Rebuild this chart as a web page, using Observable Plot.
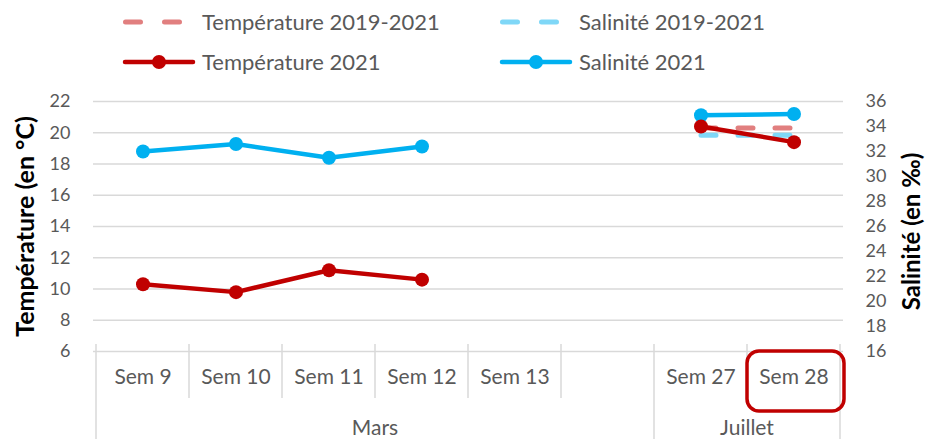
<!DOCTYPE html>
<html><head><meta charset="utf-8">
<script src="https://cdn.jsdelivr.net/npm/d3@7"></script>
<script src="https://cdn.jsdelivr.net/npm/@observablehq/plot@0.6"></script>
<style>body{margin:0;background:#fff;} #chart{width:927px;height:439px;}</style>
</head><body><div id="chart"></div>
<script>
const categories = ["Sem 9","Sem 10","Sem 11","Sem 12","Sem 13"," ","Sem 27","Sem 28"];
const monthOf = ["Mars","Mars","Mars","Mars","Mars","Mars","Juillet","Juillet"];
const months = ["Mars","Juillet"];
const temp2021 = [10.3, 9.8, 11.2, 10.6, null, null, 20.4, 19.4];
const sal2021 = [32.0, 32.6, 31.5, 32.4, null, null, 34.9, 35.0];
const temp1921 = [null, null, null, null, null, null, 20.3, 20.3];
const sal1921 = [null, null, null, null, null, null, 33.3, 33.3];
const tempTicks = [6, 8, 10, 12, 14, 16, 18, 20, 22];
const salTicks = [16, 18, 20, 22, 24, 26, 28, 30, 32, 34, 36];
const legendLabels = ["Température 2019-2021", "Salinité 2019-2021", "Température 2021", "Salinité 2021"];
const highlighted = "Sem 28";

const RED = "#c00000", BLUE = "#00b0f0", RED_L = "#e17f7f", BLUE_L = "#7fd7f7";
const legendColors = [RED_L, BLUE_L, RED, BLUE];
const FONT = "Lato, 'Open Sans', sans-serif";

// map salinity (secondary axis 16–36) onto temperature axis (6–22)
const toT = s => 6 + (s - 16) * (22 - 6) / (36 - 16);
const fromT = t => 16 + (t - 6) * (36 - 16) / (22 - 6);
const conv = v => v == null ? null : toT(v);

const rows = categories.map((c, i) => ({
  cat: c, month: monthOf[i],
  t21: temp2021[i], s21: conv(sal2021[i]),
  t1921: temp1921[i], s1921: conv(sal1921[i])
}));

const plot = Plot.plot({
  width: 927, height: 439,
  marginTop: 101, marginRight: 84, marginBottom: 88, marginLeft: 93,
  style: {fontFamily: FONT, color: "#595959", background: "#fff", overflow: "visible"},
  x: {type: "band", domain: categories, padding: 0, axis: null},
  y: {domain: [6, 22], axis: null},
  marks: [
    Plot.ruleY(tempTicks, {stroke: "#d9d9d9", strokeWidth: 1.5}),
    Plot.axisY({anchor: "left", ticks: tempTicks, tickSize: 0, tickPadding: 23, fontSize: 18, label: null}),
    Plot.axisY({anchor: "right", ticks: salTicks.map(toT), tickFormat: t => String(Math.round(fromT(t))),
      tickSize: 0, tickPadding: 22, fontSize: 18, label: null}),
    Plot.text(["Température (en °C)"], {text: d => d, frameAnchor: "left", textAnchor: "middle", dx: -68, rotate: -90,
      fontWeight: "bold", fontSize: 25, fill: "#000"}),
    Plot.text(["Salinité (en ‰)"], {text: d => d, frameAnchor: "right", textAnchor: "middle", dx: 69, dy: 5, rotate: -90,
      fontWeight: "bold", fontSize: 24, fill: "#000"}),
    Plot.text(rows, {x: "cat", text: "cat", frameAnchor: "bottom", dy: 32, fontSize: 21}),
    Plot.line(rows, {x: "cat", y: "s1921", stroke: BLUE_L, strokeWidth: 5, strokeDasharray: "15,22", strokeLinecap: "round"}),
    Plot.line(rows, {x: "cat", y: "t1921", stroke: RED_L, strokeWidth: 5, strokeDasharray: "15,22", strokeLinecap: "round"}),
    Plot.line(rows, {x: "cat", y: "s21", stroke: BLUE, strokeWidth: 4.5}),
    Plot.dot(rows, {x: "cat", y: "s21", r: 7, fill: BLUE}),
    Plot.line(rows, {x: "cat", y: "t21", stroke: RED, strokeWidth: 4.5}),
    Plot.dot(rows, {x: "cat", y: "t21", r: 7, fill: RED})
  ]
});

// category axis decorations (separators, month labels, highlight) from Plot's scales
const xs = plot.scale("x"), ys = plot.scale("y");
const bw = xs.bandwidth;
const base = ys.apply(6);
const svg = d3.select(plot);
const deco = svg.append("g");
const n = categories.length;
for (let i = 0; i <= n; i++) {
  const xp = i < n ? xs.apply(categories[i]) : xs.apply(categories[n - 1]) + bw;
  const isGroup = i === 0 || i === n || monthOf[i] !== monthOf[i - 1];
  deco.append("line").attr("x1", xp).attr("x2", xp)
    .attr("y1", base - 7).attr("y2", isGroup ? 439 : base + 47)
    .attr("stroke", "#d9d9d9").attr("stroke-width", 1.5);
}
months.forEach(m => {
  const idx = categories.map((c, i) => i).filter(i => monthOf[i] === m);
  const x0 = xs.apply(categories[idx[0]]);
  const x1 = xs.apply(categories[idx[idx.length - 1]]) + bw;
  deco.append("text").text(m).attr("x", (x0 + x1) / 2).attr("y", base + 77)
    .attr("dy", "0.35em").attr("text-anchor", "middle")
    .attr("font-family", FONT).attr("font-size", 21).attr("fill", "#595959");
});
{
  const hx = xs.apply(highlighted);
  deco.append("rect").attr("x", hx).attr("y", base).attr("width", bw + 4).attr("height", 60)
    .attr("rx", 12).attr("fill", "none").attr("stroke", RED).attr("stroke-width", 3.5);
}

// legend
const leg = svg.append("g");
const colX = [123, 500], rowY = [22, 62];
legendLabels.forEach((lab, i) => {
  const cx = colX[i % 2], cy = rowY[Math.floor(i / 2)];
  const dashed = i < 2;
  if (dashed) {
    leg.append("line").attr("x1", cx + 2.5).attr("x2", cx + 57).attr("y1", cy).attr("y2", cy)
      .attr("stroke", legendColors[i]).attr("stroke-width", 5).attr("stroke-linecap", "round")
      .attr("stroke-dasharray", "15,24");
  } else {
    leg.append("line").attr("x1", cx + 2).attr("x2", cx + 70).attr("y1", cy).attr("y2", cy)
      .attr("stroke", legendColors[i]).attr("stroke-width", 4.5).attr("stroke-linecap", "round");
    leg.append("circle").attr("cx", cx + 36).attr("cy", cy).attr("r", 7).attr("fill", legendColors[i]);
  }
  leg.append("text").text(lab).attr("x", cx + 79).attr("y", cy).attr("dy", "0.35em")
    .attr("text-anchor", "start")
    .attr("font-family", FONT).attr("font-size", 22).attr("fill", "#595959");
});

document.getElementById("chart").appendChild(plot);
</script>
</body></html>
